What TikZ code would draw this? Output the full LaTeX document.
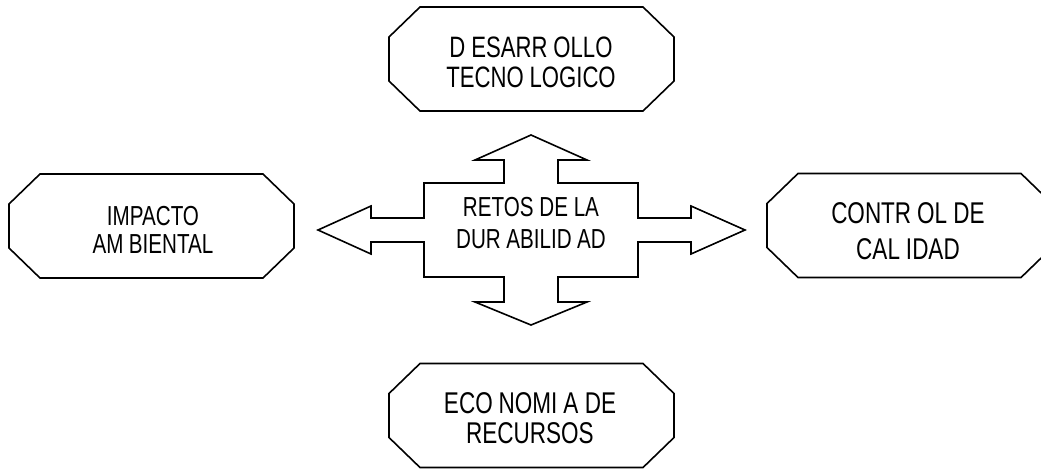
\documentclass[tikz,border=0pt]{standalone}
\usepackage{fontspec}
\newfontfamily\diagf{Liberation Sans}[FakeStretch=0.75]
\newcommand\gp{\kern0.2em}
\begin{document}
\begin{tikzpicture}[x=1pt,y=-1pt,line join=miter,
  octline/.style={draw=black,line width=1.6pt},
  octbox/.pic={\draw[octline] (-111.5,-52) -- (111.5,-52) -- (142.5,-22) -- (142.5,22)
     -- (111.5,52) -- (-111.5,52) -- (-142.5,22) -- (-142.5,-22) -- cycle;},
  txt/.style={align=center,inner sep=0pt,text=black},
  crossline/.style={draw=black,line width=1.6pt}]
\useasboundingbox (0,0) rectangle (1041,469);
\clip (0,0) rectangle (1041,469);
% octagons
\pic at (531.5,59) {octbox};
\pic at (151.5,226) {octbox};
\pic at (909.5,225.5) {octbox};
\pic at (531.5,415.5) {octbox};
% central cross arrow
\draw[crossline] (531,135) -- (587,160) -- (558,160) -- (558,183) -- (638,183) -- (638,218)
  -- (691,218) -- (691,206) -- (745,230) -- (691,254) -- (691,242) -- (638,242) -- (638,277)
  -- (558,277) -- (558,302) -- (587,302) -- (531,325) -- (475,302) -- (504,302) -- (504,277)
  -- (424,277) -- (424,242) -- (371,242) -- (371,254) -- (318,230) -- (371,206) -- (371,218)
  -- (424,218) -- (424,183) -- (504,183) -- (504,160) -- (475,160) -- cycle;
% texts
\node[txt,font=\diagf\fontsize{29.5}{30}\selectfont] (des) at (531,62.7)
  {D\gp ESARR\gp OLLO\\TECNO\gp LOGICO};
\node[txt,font=\diagf\fontsize{27.5}{28}\selectfont] (imp) at (153,230)
  {IMPACTO\\AM\gp BIENTAL};
\node[txt,font=\diagf\fontsize{30}{35.5}\selectfont] (con) at (908,231)
  {CONTR\gp OL DE\\CAL\gp IDAD};
\node[txt,font=\diagf\fontsize{30}{30}\selectfont] (eco) at (530,418.5)
  {ECO\gp NOMI\gp A DE\\RECURSOS};
\node[txt,font=\diagf\fontsize{27.5}{32}\selectfont] (ret) at (531,223.5)
  {RETOS DE LA\\DUR\gp ABILID\gp AD};
\end{tikzpicture}
\end{document}
